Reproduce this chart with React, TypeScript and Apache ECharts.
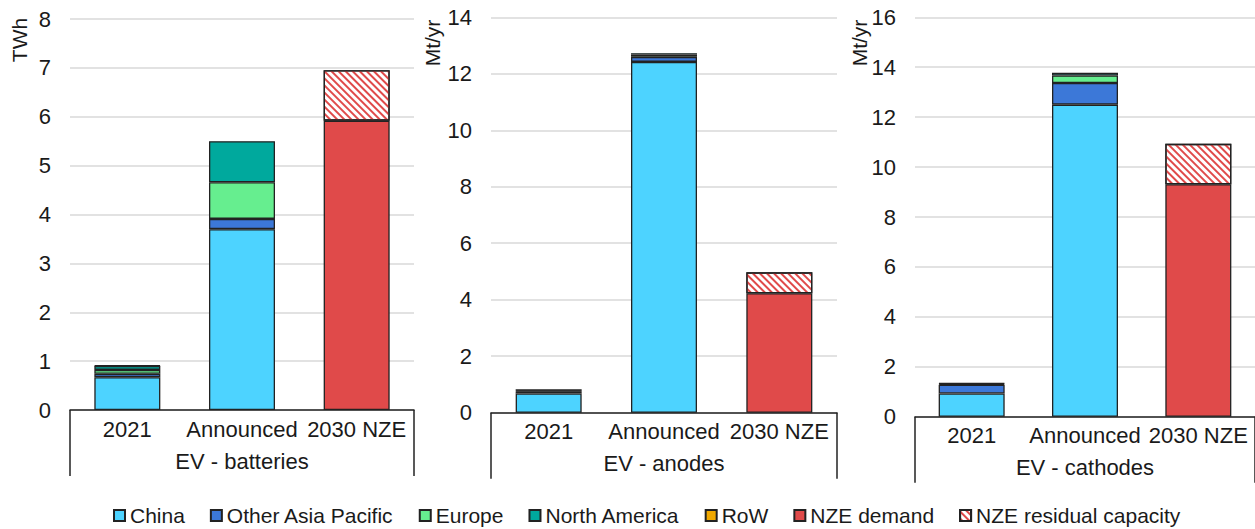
import React, { useEffect, useRef } from "react";
import * as echarts from "echarts";

const categories = ["2021", "Announced", "2030 NZE"];
const panelTitles = ["EV - batteries", "EV - anodes", "EV - cathodes"];
const panelUnits = ["TWh", "Mt/yr", "Mt/yr"];
const seriesNames = ["China", "Other Asia Pacific", "Europe", "North America", "RoW", "NZE demand", "NZE residual capacity"];

// EV - batteries (TWh)
const batChina = [0.67, 3.7, null];
const batOtherAsia = [0.07, 0.21, null];
const batEurope = [0.08, 0.75, null];
const batNorthAmerica = [0.08, 0.84, null];
const batRoW = [0.01, null, null];
const batNzeDemand = [null, null, 5.92];
const batNzeResidual = [null, null, 1.03];

// EV - anodes (Mt/yr)
const anoChina = [0.68, 12.42, null];
const anoOtherAsia = [0.08, 0.18, null];
const anoEurope = [0.02, 0.08, null];
const anoNorthAmerica = [0.05, 0.05, null];
const anoRoW = [null, null, null];
const anoNzeDemand = [null, null, 4.23];
const anoNzeResidual = [null, null, 0.74];

// EV - cathodes (Mt/yr)
const catChina = [0.93, 12.5, null];
const catOtherAsia = [0.35, 0.87, null];
const catEurope = [0.04, 0.3, null];
const catNorthAmerica = [0.02, 0.11, null];
const catRoW = [null, null, null];
const catNzeDemand = [null, null, 9.31];
const catNzeResidual = [null, null, 1.62];

const yMax = [8, 14, 16];
const yInterval = [1, 2, 2];

const panelData = [
  [batChina, batOtherAsia, batEurope, batNorthAmerica, batRoW, batNzeDemand, batNzeResidual],
  [anoChina, anoOtherAsia, anoEurope, anoNorthAmerica, anoRoW, anoNzeDemand, anoNzeResidual],
  [catChina, catOtherAsia, catEurope, catNorthAmerica, catRoW, catNzeDemand, catNzeResidual],
];

const colors = ["#4dd3ff", "#3c78d8", "#66ee8f", "#00a99d", "#f0a800", "#e04a4a", "#ffffff"];

const FONT = "'Liberation Sans', Arial, sans-serif";
const TEXT = "#1a1a1a";
const EDGE = "#222222";

export default function App() {
  const ref = useRef<HTMLDivElement>(null);
  useEffect(() => {
    document.body.style.margin = "0";
    if (!ref.current) return;
    const chart = echarts.init(ref.current, null, { renderer: "svg" });

    const grids = [
      { left: 70, top: 19, width: 344, height: 391 },
      { left: 491, top: 17.3, width: 346, height: 395.4 },
      { left: 915, top: 17.3, width: 340, height: 399.4 },
    ];
    const nameCenters = [
      [19, 40],
      [432, 43],
      [859, 43],
    ];

    const xAxes: any[] = [];
    const yAxes: any[] = [];
    const series: any[] = [];
    grids.forEach((g, p) => {
      xAxes.push({
        type: "category",
        gridIndex: p,
        position: "bottom",
        data: categories,
        axisLine: { onZero: false, lineStyle: { color: EDGE, width: 1.5 } },
        axisTick: { show: false },
        axisLabel: { fontFamily: FONT, fontSize: 22, color: TEXT, margin: 8, interval: 0 },
      });
      xAxes.push({
        type: "category",
        gridIndex: p,
        position: "bottom",
        data: [panelTitles[p]],
        axisLine: { show: false, onZero: false },
        axisTick: { show: true, length: 66, lineStyle: { color: EDGE, width: 1.5 } },
        axisLabel: { fontFamily: FONT, fontSize: 22, color: TEXT, margin: 40 },
        splitLine: { show: false },
      });
      yAxes.push({
        type: "value",
        gridIndex: p,
        min: 0,
        max: yMax[p],
        interval: yInterval[p],
        axisLine: { show: false },
        axisTick: { show: false },
        axisLabel: { fontFamily: FONT, fontSize: 22, color: TEXT, margin: 19 },
        splitLine: { lineStyle: { color: "#d9d9d9", width: 1.5 } },
      });
      panelData[p].forEach((vals, s) => {
        const isResidual = s === 6;
        series.push({
          type: "bar",
          name: seriesNames[s],
          xAxisIndex: p * 2,
          yAxisIndex: p,
          stack: "panel" + p,
          barWidth: 66,
          data: vals,
          itemStyle: isResidual
            ? {
                color: "#ffffff",
                borderColor: EDGE,
                borderWidth: 1.3,
                decal: {
                  symbol: "rect",
                  color: "#e04a4a",
                  dashArrayX: [1, 0],
                  dashArrayY: [2, 3],
                  rotation: Math.PI / 4,
                  symbolSize: 1,
                },
              }
            : { color: colors[s], borderColor: EDGE, borderWidth: 1.3 },
        });
      });
    });

    chart.setOption({
      animation: false,
      grid: grids,
      xAxis: xAxes,
      yAxis: yAxes,
      series,
      legend: {
        data: seriesNames,
        left: 108,
        top: 500,
        icon: "rect",
        itemWidth: 11,
        itemHeight: 11,
        itemGap: 25,
        textStyle: { fontFamily: FONT, fontSize: 21, color: TEXT },
      },
      graphic: nameCenters.map((c, p) => ({
        type: "text",
        x: c[0],
        y: c[1],
        rotation: Math.PI / 2,
        style: {
          text: panelUnits[p],
          fontFamily: FONT,
          fontSize: 21,
          fill: TEXT,
          align: "center",
          verticalAlign: "middle",
        },
      })),
    });
    return () => chart.dispose();
  }, []);
  return <div ref={ref} style={{ width: 1255, height: 529 }} />;
}
